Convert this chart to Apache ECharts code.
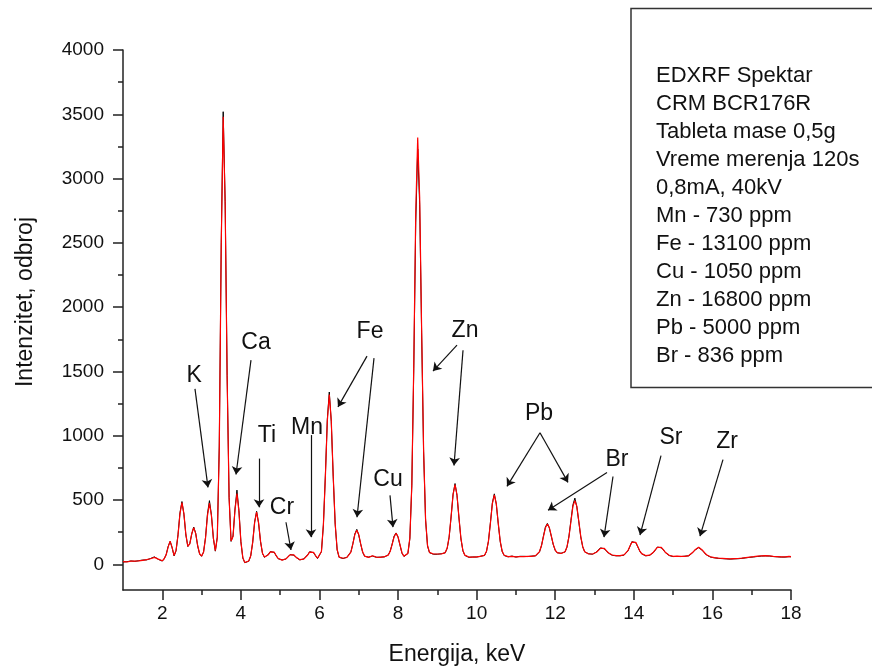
<!DOCTYPE html>
<html>
<head>
<meta charset="utf-8">
<title>EDXRF Spektar</title>
<script src="https://cdn.jsdelivr.net/npm/echarts@6/dist/echarts.min.js"></script>
<style>
  html, body { margin: 0; padding: 0; background: #fff; }
  #chart { width: 872px; height: 671px; }
</style>
</head>
<body>
<div id="chart"></div>
<script>
// Spectrum sampling: counts every 0.05 keV from 1.00 to 18.00 keV
const ENERGY_START = 1.0;
const ENERGY_STEP = 0.05;

// Red trace (one row per keV: 1.00-1.95, 2.00-2.95, ... 17.00-17.95, 18.00)
const countsRed = [
  20,22,18,21,24,22,25,27,26,30,31,30,36,40,43,47,54,50,40,30,
  27,45,75,135,180,132,68,108,226,394,480,394,232,140,158,239,285,238,146,82,
  64,94,203,379,475,379,204,106,208,904,2475,3480,2794,1456,517,181,216,422,550,412,
  178,50,14,12,26,66,170,324,405,324,180,86,56,58,75,97,108,94,67,45,
  30,32,36,43,57,73,81,73,56,42,36,37,40,51,72,95,107,93,68,47,
  42,100,310,680,1116,1320,1121,685,315,115,56,48,47,49,53,64,95,158,231,265,
  231,158,95,64,53,54,60,66,62,56,52,54,56,59,62,71,101,155,214,240,
  214,150,88,63,65,85,203,619,1554,2740,3320,2855,1825,888,351,146,93,82,80,78,
  80,82,80,84,91,126,214,372,542,620,539,364,201,108,71,58,56,58,55,60,
  58,60,61,63,70,101,180,319,471,540,471,319,180,101,70,62,60,58,62,60,
  58,62,60,63,60,58,62,64,62,65,67,76,99,146,216,284,313,286,221,155,
  111,91,83,84,85,98,137,216,335,451,495,451,335,216,137,98,85,80,78,80,
  84,94,109,124,130,123,106,90,78,72,70,68,70,68,68,73,84,106,140,172,
  186,171,139,105,83,72,68,66,71,80,94,114,131,138,131,114,94,80,70,65,
  62,62,63,60,62,61,61,63,68,78,93,111,126,132,126,109,90,74,63,58,
  55,52,50,48,47,46,45,44,43,42,43,44,43,45,46,48,50,52,54,56,
  58,59,61,63,64,66,65,67,68,66,64,62,61,60,59,58,57,58,60,61,
  60
];

// Black trace, same sampling
const countsBlack = [
  18,24,20,19,26,24,23,29,28,28,33,32,34,42,45,50,58,48,38,28,
  25,42,78,140,178,128,65,105,230,400,488,390,228,138,162,236,290,242,142,80,
  62,96,208,392,495,385,200,102,212,920,2500,3520,2820,1470,520,178,220,430,577,420,
  175,48,12,10,24,64,168,330,412,320,176,84,54,60,77,99,110,92,65,43,
  28,34,38,41,55,75,79,71,54,40,34,39,42,53,74,98,110,90,66,45,
  40,98,305,690,1130,1340,1110,680,310,112,54,46,45,51,55,66,97,160,236,272,
  226,155,92,62,51,56,62,64,60,54,50,56,58,57,64,73,103,158,220,244,
  210,148,86,61,63,83,200,610,1520,2660,3230,2800,1800,875,345,142,90,80,78,76,
  78,84,82,86,89,124,210,368,545,628,535,360,198,105,69,56,54,60,57,58,
  56,62,63,61,68,99,178,322,478,548,468,315,176,99,68,60,58,60,64,58,
  56,60,62,61,62,60,60,66,64,63,65,74,97,144,220,290,318,282,218,152,
  108,89,81,86,83,96,135,220,342,462,515,445,330,212,135,96,83,82,76,78,
  82,96,111,128,134,120,104,88,76,70,68,66,72,66,66,71,82,104,138,176,
  190,168,136,103,81,70,66,64,69,78,92,112,134,141,128,112,92,78,68,63,
  60,64,61,58,60,59,63,61,66,76,91,109,124,130,128,106,88,72,61,56,
  53,50,48,46,45,44,43,42,41,40,41,42,41,43,44,46,48,50,52,54,
  56,57,59,61,62,64,63,65,66,64,62,60,59,58,57,56,55,56,58,59,
  58
];

// Axis ticks
const xMajorTicks = [2, 4, 6, 8, 10, 12, 14, 16, 18];
const xMinorTicks = [3, 5, 7, 9, 11, 13, 15, 17];
const yMajorTicks = [0, 500, 1000, 1500, 2000, 2500, 3000, 3500, 4000];
const yMinorTicks = [250, 750, 1250, 1750, 2250, 2750, 3250, 3750];

// Element labels: [name, energy keV, counts]
const elementNames = ['K', 'Ca', 'Ti', 'Cr', 'Mn', 'Fe', 'Cu', 'Zn', 'Pb', 'Br', 'Sr', 'Zr'];
const elementLabelAt = [
  [2.81, 1465], [4.385, 1727], [4.665, 1000], [5.046, 443], [5.683, 1062], [7.286, 1812],
  [7.744, 660], [9.704, 1820], [11.587, 1170], [13.572, 814], [14.946, 985], [16.371, 954]
];

// Pointer arrows: [from, to] in [keV, counts]
const pointerArrows = [
  [[2.832, 1364], [3.163, 598]],
  [[4.257, 1588], [3.876, 698]],
  [[4.461, 822], [4.461, 443]],
  [[5.148, 327], [5.275, 111]],
  [[5.784, 1005], [5.784, 211]],
  [[7.210, 1619], [6.471, 1224]],
  [[7.388, 1603], [6.955, 366]],
  [[7.795, 536], [7.871, 289]],
  [[9.500, 1704], [8.889, 1503]],
  [[9.653, 1665], [9.424, 768]],
  [[11.612, 1023], [10.772, 606]],
  [[11.612, 1023], [12.325, 637]],
  [[13.317, 714], [11.816, 420]],
  [[13.470, 683], [13.241, 211]],
  [[14.692, 845], [14.157, 227]],
  [[16.269, 814], [15.684, 219]]
];

// Measurement notes shown in the boxed panel
const infoLines = [
  'EDXRF Spektar',
  'CRM BCR176R',
  'Tableta mase 0,5g',
  'Vreme merenja 120s',
  '0,8mA, 40kV',
  'Mn - 730 ppm',
  'Fe - 13100 ppm',
  'Cu - 1050 ppm',
  'Zn - 16800 ppm',
  'Pb - 5000 ppm',
  'Br - 836 ppm'
];

const FONT = '"Liberation Sans", Arial, sans-serif';

function toPairs(counts) {
  return counts.map((c, i) => [Number((ENERGY_START + i * ENERGY_STEP).toFixed(2)), c]);
}

const chart = echarts.init(document.getElementById('chart'), null, { renderer: 'canvas' });

const axisLineStyle = { color: '#222', width: 1.5 };
const plainNumber = v => String(v);

const option = {
  animation: false,
  backgroundColor: '#fff',
  grid: { left: 123, right: 81, top: 50, bottom: 78, containLabel: false },
  xAxis: [
    {
      type: 'value', min: 1, max: 18, position: 'bottom',
      axisLine: { show: true, onZero: false, lineStyle: axisLineStyle },
      axisTick: { show: true, customValues: xMajorTicks, length: 10, lineStyle: axisLineStyle },
      axisLabel: { show: true, customValues: xMajorTicks, formatter: plainNumber, margin: 14, fontSize: 19, color: '#111', fontFamily: FONT },
      splitLine: { show: false },
      name: 'Energija, keV', nameLocation: 'middle', nameGap: 53,
      nameTextStyle: { fontSize: 23, color: '#111', fontFamily: FONT }
    },
    {
      type: 'value', min: 1, max: 18, position: 'bottom', offset: 0,
      axisLine: { show: false, onZero: false },
      axisTick: { show: true, customValues: xMinorTicks, length: 5, lineStyle: axisLineStyle },
      axisLabel: { show: false },
      splitLine: { show: false }
    }
  ],
  yAxis: [
    {
      type: 'value', min: -200, max: 4000, position: 'left',
      axisLine: { show: true, onZero: false, lineStyle: axisLineStyle },
      axisTick: { show: true, customValues: yMajorTicks, length: 10, lineStyle: axisLineStyle },
      axisLabel: { show: true, customValues: yMajorTicks, formatter: plainNumber, margin: 19, fontSize: 19, color: '#111', fontFamily: FONT },
      splitLine: { show: false },
      name: 'Intenzitet, odbroj', nameLocation: 'middle', nameGap: 86,
      nameTextStyle: { fontSize: 23, color: '#111', fontFamily: FONT, padding: [0, 0, 0, 36] }
    },
    {
      type: 'value', min: -200, max: 4000, position: 'left', offset: 0,
      axisLine: { show: false, onZero: false },
      axisTick: { show: true, customValues: yMinorTicks, length: 5, lineStyle: axisLineStyle },
      axisLabel: { show: false },
      splitLine: { show: false }
    }
  ],
  series: [
    {
      name: 'black', type: 'line', xAxisIndex: 0, yAxisIndex: 0,
      data: toPairs(countsBlack), showSymbol: false, symbol: 'none',
      lineStyle: { color: '#000', width: 1 }, silent: true, z: 2
    },
    {
      name: 'red', type: 'line', xAxisIndex: 0, yAxisIndex: 0,
      data: toPairs(countsRed), showSymbol: false, symbol: 'none',
      lineStyle: { color: '#ff0000', width: 1.2 }, silent: true, z: 3,
      markPoint: {
        silent: true, animation: false,
        symbol: 'circle', symbolSize: 1,
        itemStyle: { color: 'rgba(0,0,0,0)' },
        label: {
          show: true, position: 'inside', formatter: '{b}',
          fontSize: 23, color: '#111', fontFamily: FONT
        },
        data: elementNames.map((n, i) => ({ name: n, coord: elementLabelAt[i] }))
      }
    },
    {
      // arrows pointing from the element labels to their peaks
      name: 'pointers', type: 'line', xAxisIndex: 0, yAxisIndex: 0,
      data: [], silent: true, z: 4,
      markLine: {
        silent: true, animation: false,
        symbol: ['none', 'arrow'], symbolSize: 8,
        label: { show: false },
        itemStyle: { color: '#111' },
        lineStyle: { color: '#111', width: 1.2, type: 'solid' },
        emphasis: { disabled: true },
        data: pointerArrows.map(a => [{ coord: a[0] }, { coord: a[1] }])
      }
    }
  ],
  graphic: [
    {
      type: 'rect', silent: true, z: 10,
      shape: { x: 631, y: 8.5, width: 260, height: 379 },
      style: { fill: '#fff', stroke: '#333', lineWidth: 1.5 }
    },
    {
      type: 'text', silent: true, z: 11, x: 656, y: 62,
      style: {
        text: infoLines.join('\n'), fill: '#111',
        font: '22px ' + FONT, lineHeight: 28,
        textAlign: 'left', textVerticalAlign: 'top'
      }
    }
  ]
};

chart.setOption(option);
</script>
</body>
</html>
